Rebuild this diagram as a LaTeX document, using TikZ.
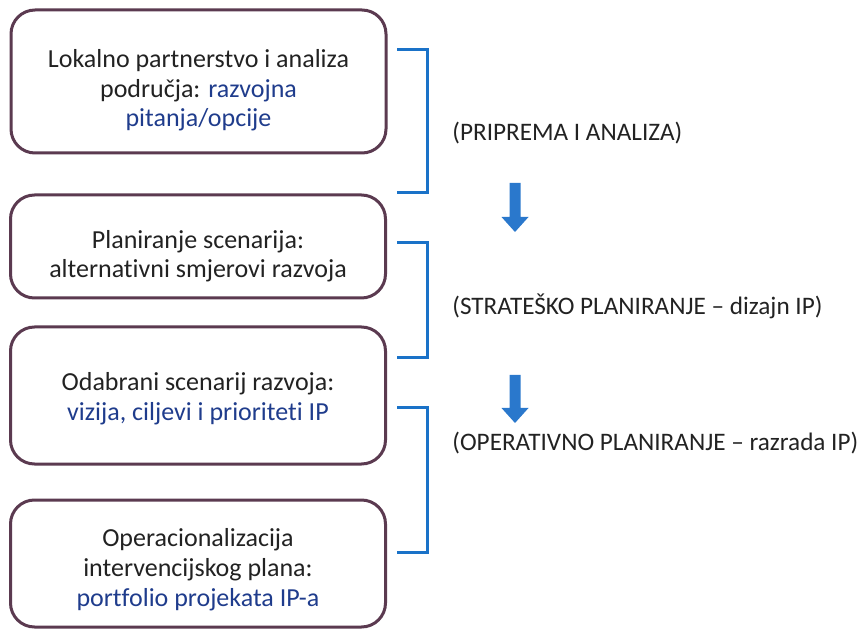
\documentclass[tikz,border=0pt]{standalone}
\usepackage{fontspec}
\setmainfont{Carlito}[Ligatures={NoCommon}]
\definecolor{boxc}{HTML}{5B3A50}
\definecolor{txt}{HTML}{222222}
\definecolor{navy}{HTML}{1F3C8C}
\definecolor{brk}{HTML}{1A72C8}
\definecolor{arr}{HTML}{2A78CC}
\newcommand\pushdown[1]{\rule{0pt}{#1}}
\begin{document}
\begin{tikzpicture}[x=0.5pt,y=-0.5pt,
  boxnode/.style={draw=boxc, line width=1.5pt, rounded corners=12pt, minimum width=187.5pt,
    inner sep=0pt, align=center, font=\fontsize{13}{14.8}\selectfont, text=txt},
  phase/.style={anchor=west, inner sep=0pt, font=\fontsize{12.6}{14.5}\selectfont, text=txt},
  bracket/.style={draw=brk, line width=1.5pt},
  blockarrow/.style={fill=arr}]
\useasboundingbox (0,0) rectangle (867,630);

\node[boxnode, minimum height=71.5pt] (b1) at (198.5,81.5)
  {\pushdown{17.8pt}Lokalno partnerstvo i analiza\\ područja: \textcolor{navy}{razvojna}\\ \textcolor{navy}{pitanja/opcije}};
\node[boxnode, minimum height=51.5pt] (b2) at (198,246.5)
  {\pushdown{18.6pt}Planiranje scenarija:\\ alternativni smjerovi razvoja};
\node[boxnode, minimum height=68.5pt] (b3) at (198,395.5)
  {\pushdown{12.2pt}Odabrani scenarij razvoja:\\ \textcolor{navy}{vizija, ciljevi i prioriteti IP}};
\node[boxnode, minimum height=63.5pt] (b4) at (198,563.5)
  {\pushdown{15.2pt}Operacionalizacija\\ intervencijskog plana:\\ \textcolor{navy}{portfolio projekata IP-a}};

% brackets
\coordinate (k1a) at (397,50);  \coordinate (k1b) at (397,193);
\coordinate (k2a) at (397,243); \coordinate (k2b) at (397,358);
\coordinate (k3a) at (397,408); \coordinate (k3b) at (397,552);
\draw[bracket] (k1a) -- ++(30,0) |- (k1b);
\draw[bracket] (k2a) -- ++(30,0) |- (k2b);
\draw[bracket] (k3a) -- ++(30,0) |- (k3b);

% labels
\node[phase] (p1) at (452,133) {(PRIPREMA I ANALIZA)};
\node[phase] (p2) at (452,306) {(STRATEŠKO PLANIRANJE – dizajn IP)};
\node[phase] (p3) at (452,443) {(OPERATIVNO PLANIRANJE – razrada IP)};

% block arrows
\fill[blockarrow] (509.5,183) -- (520.5,183) -- (520.5,217) -- (528.5,217) -- (515,232)
  -- (501.5,217) -- (509.5,217) -- cycle;
\fill[blockarrow] (509.5,375) -- (520.5,375) -- (520.5,408) -- (528.5,408) -- (515,423)
  -- (501.5,408) -- (509.5,408) -- cycle;
\end{tikzpicture}
\end{document}
